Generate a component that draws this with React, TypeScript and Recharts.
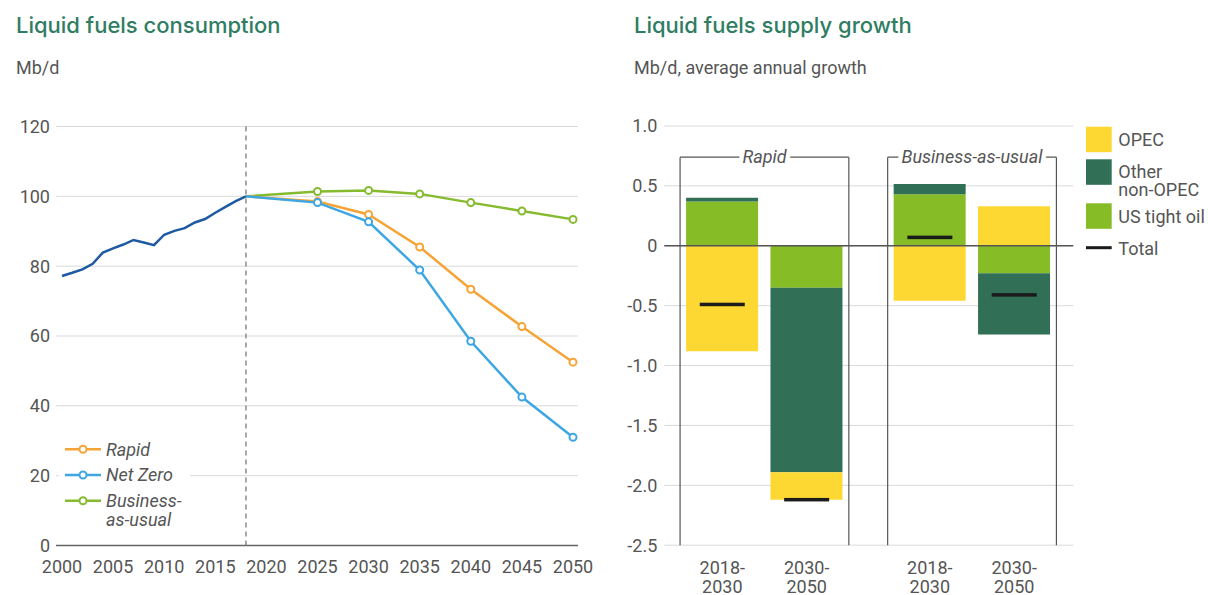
import React from "react";
import {
  LineChart,
  Line,
  ComposedChart,
  Bar,
  Scatter,
  XAxis,
  YAxis,
  CartesianGrid,
  ReferenceLine,
} from "recharts";

// ---- Liquid fuels consumption (Mb/d) ----
const historyYears = [2000, 2001, 2002, 2003, 2004, 2005, 2006, 2007, 2008, 2009, 2010, 2011, 2012, 2013, 2014, 2015, 2016, 2017, 2018];
const historyValues = [77.2, 78.1, 79.1, 80.7, 83.9, 85.1, 86.2, 87.5, 86.8, 86.0, 89.0, 90.1, 90.9, 92.5, 93.5, 95.3, 97.0, 98.6, 100.0];
const scenarioYears = [2018, 2025, 2030, 2035, 2040, 2045, 2050];
const rapidValues = [100, 98.5, 94.8, 85.5, 73.4, 62.7, 52.5];
const netZeroValues = [100, 98.2, 92.7, 78.9, 58.5, 42.5, 31.0];
const bauValues = [100, 101.4, 101.7, 100.7, 98.2, 95.8, 93.4];
const yearTicks = [2000, 2005, 2010, 2015, 2020, 2025, 2030, 2035, 2040, 2045, 2050];
const consumptionTicks = [0, 20, 40, 60, 80, 100, 120];

// ---- Liquid fuels supply growth (Mb/d, average annual growth) ----
const scenarios = ["Rapid", "Business-as-usual"];
const periods = ["2018-2030", "2030-2050"];
const usTightOil = [0.37, -0.35, 0.43, -0.23];
const otherNonOpec = [0.03, -1.54, 0.085, -0.51];
const opec = [-0.88, -0.23, -0.46, 0.33];
const totals = [-0.49, -2.12, 0.07, -0.41];
const growthTicks = [-2.5, -2, -1.5, -1, -0.5, 0, 0.5, 1];

const FONT = "Roboto, 'Open Sans', sans-serif";
const TITLE_FONT = "Inter, Roboto, sans-serif";
const TEXT = "#555";
const GRID = "#d9d9d9";
const TITLE = "#2f7d62";

const LINE_SERIES = [
  { key: "bau", label: ["Business-", "as-usual"], color: "#86bb2f", values: bauValues },
  { key: "rapid", label: ["Rapid"], color: "#f6a436", values: rapidValues },
  { key: "netZero", label: ["Net Zero"], color: "#3ea7e3", values: netZeroValues },
];
const LEGEND_ORDER = ["rapid", "netZero", "bau"];

const BAR_SERIES = [
  { key: "usTightOil", name: "US tight oil", color: "#86bc25", values: usTightOil },
  { key: "otherNonOpec", name: "Other non-OPEC", color: "#316f57", values: otherNonOpec },
  { key: "opec", name: "OPEC", color: "#fdd833", values: opec },
];

const allYears = Array.from(new Set([...historyYears, ...scenarioYears])).sort((a, b) => a - b);
const consumptionData = allYears.map((year) => {
  const h = historyYears.indexOf(year);
  const s = scenarioYears.indexOf(year);
  const row: Record<string, number | null> = { year, history: h >= 0 ? historyValues[h] : null };
  LINE_SERIES.forEach((ser) => {
    row[ser.key] = s >= 0 ? ser.values[s] : null;
  });
  return row;
});

const GROUP_STEP = 2.46;
const growthData = scenarios.flatMap((scenario, gi) =>
  periods.map((period, pi) => {
    const i = gi * periods.length + pi;
    const row: Record<string, any> = { x: gi * GROUP_STEP + pi, scenario, period, total: totals[i] };
    BAR_SERIES.forEach((ser) => {
      row[ser.key] = ser.values[i];
    });
    return row;
  })
);
const barTicks = growthData.map((r) => r.x);

const scenarioDot = (color: string) => (props: any) => {
  const { cx, cy, payload, index } = props;
  if (cx == null || cy == null || payload.year <= 2018) return <g key={`d-${index}`} />;
  return <circle key={`d-${index}`} cx={cx} cy={cy} r={3.5} fill="#fff" stroke={color} strokeWidth={2} />;
};

const PeriodTick = (props: any) => {
  const { x, y, payload } = props;
  const row = growthData.find((r) => Math.abs(r.x - payload.value) < 1e-6);
  if (!row) return <g />;
  const [a, b] = row.period.split("-");
  return (
    <text x={x} y={y} textAnchor="middle" fill={TEXT} fontSize={18} fontFamily={FONT}>
      <tspan x={x} dy={28.5}>{a}-</tspan>
      <tspan x={x} dy={18.8}>{b}</tspan>
    </text>
  );
};

const TotalMark = (props: any) => {
  const { cx, cy } = props;
  if (cx == null || cy == null) return <g />;
  return <rect x={cx - 22.5} y={cy - 1.75} width={45} height={3.5} fill="#1b1b1b" />;
};

const bracketLabel = (text: string) => (props: any) => {
  const vb = props.viewBox || {};
  const cx = (vb.x || 0) + (vb.width || 0) / 2;
  const cy = vb.y || 0;
  return (
    <text
      x={cx}
      y={cy}
      dy="0.35em"
      textAnchor="middle"
      fontSize={18}
      fontStyle="italic"
      fontFamily={FONT}
      fill={TEXT}
      stroke="#fff"
      strokeWidth={9}
      paintOrder="stroke"
    >
      {text}
    </text>
  );
};

const tickStyle = { fill: TEXT, fontSize: 18, fontFamily: FONT };
const BRACKET_TOP = 0.74;

export default function App() {
  return (
    <div style={{ position: "absolute", left: 0, top: 0, width: 1208, height: 595, background: "#fff" }}>
      <div style={{ position: "absolute", left: 0, top: 0 }}>
        <LineChart width={600} height={595} data={consumptionData} margin={{ top: 126.5, right: 22, bottom: 19.5, left: 6 }}>
          <CartesianGrid vertical={false} stroke={GRID} />
          <XAxis
            dataKey="year"
            type="number"
            domain={[2000, 2050]}
            ticks={yearTicks}
            interval={0}
            padding={{ left: 6, right: 5 }}
            height={30}
            tickSize={0}
            tickMargin={15}
            tick={tickStyle}
            axisLine={{ stroke: "#666", strokeWidth: 1.5 }}
          />
          <YAxis
            domain={[0, 120]}
            ticks={consumptionTicks}
            width={50}
            tickSize={0}
            tickMargin={6}
            tick={tickStyle}
            axisLine={false}
          />
          <ReferenceLine x={2018} stroke="#8c8c8c" strokeDasharray="5 4" strokeWidth={1.5} />
          <Line dataKey="history" stroke="#1d5aa3" strokeWidth={2.5} dot={false} isAnimationActive={false} />
          {LINE_SERIES.map((s) => (
            <Line
              key={s.key}
              dataKey={s.key}
              stroke={s.color}
              strokeWidth={2.5}
              dot={scenarioDot(s.color)}
              activeDot={false}
              isAnimationActive={false}
            />
          ))}
        </LineChart>
      </div>

      <div style={{ position: "absolute", left: 600, top: 0 }}>
        <ComposedChart
          width={608}
          height={595}
          data={growthData}
          stackOffset="sign"
          margin={{ top: 126, right: 134.7, bottom: 19.8, left: 8.3 }}
        >
          <CartesianGrid vertical={false} stroke={GRID} />
          <XAxis
            dataKey="x"
            type="number"
            domain={[-0.687, 4.16]}
            allowDataOverflow
            ticks={barTicks}
            interval={0}
            height={30}
            tickSize={0}
            tickMargin={0}
            axisLine={false}
            tick={<PeriodTick />}
          />
          <YAxis
            domain={[-2.5, 1]}
            ticks={growthTicks}
            width={56}
            tickSize={0}
            tickMargin={7}
            tick={tickStyle}
            axisLine={false}
            tickFormatter={(v: number) => (v === 0 ? "0" : v.toFixed(1))}
          />
          {BAR_SERIES.map((s) => (
            <Bar key={s.key} dataKey={s.key} stackId="supply" fill={s.color} barSize={72} isAnimationActive={false} />
          ))}
          <ReferenceLine y={0} stroke="#555" strokeWidth={1.3} />
          {scenarios.map((name, gi) => {
            const left = gi * GROUP_STEP - 0.5;
            const right = gi * GROUP_STEP + periods.length - 0.5;
            return (
              <React.Fragment key={name}>
                <ReferenceLine
                  segment={[{ x: left, y: BRACKET_TOP }, { x: left, y: -2.5 }]}
                  stroke="#555"
                  strokeWidth={1.2}
                />
                <ReferenceLine
                  segment={[{ x: right, y: BRACKET_TOP }, { x: right, y: -2.5 }]}
                  stroke="#555"
                  strokeWidth={1.2}
                />
                <ReferenceLine
                  segment={[{ x: left, y: BRACKET_TOP }, { x: right, y: BRACKET_TOP }]}
                  stroke="#555"
                  strokeWidth={1.2}
                  label={bracketLabel(name)}
                />
              </React.Fragment>
            );
          })}
          <Scatter dataKey="total" shape={TotalMark} isAnimationActive={false} />
        </ComposedChart>
      </div>

      <svg width={1208} height={595} style={{ position: "absolute", left: 0, top: 0, pointerEvents: "none" }}>
        <text x={16} y={32.5} fontSize={22} fontWeight={500} fill={TITLE} fontFamily={TITLE_FONT}>
          Liquid fuels consumption
        </text>
        <text x={16} y={74} fontSize={18} fill={TEXT} fontFamily={FONT}>
          Mb/d
        </text>
        <text x={634} y={32.5} fontSize={22} fontWeight={500} fill={TITLE} fontFamily={TITLE_FONT}>
          Liquid fuels supply growth
        </text>
        <text x={634} y={74} fontSize={18} fill={TEXT} fontFamily={FONT}>
          Mb/d, average annual growth
        </text>

        {/* left legend */}
        <rect x={59} y={437} width={131} height={92} fill="#fff" />
        {LEGEND_ORDER.map((k, i) => {
          const s = LINE_SERIES.find((d) => d.key === k)!;
          const y = 449.3 + i * 25.7;
          return (
            <g key={k}>
              <line x1={65} x2={101} y1={y} y2={y} stroke={s.color} strokeWidth={2.5} />
              <circle cx={83} cy={y} r={3.5} fill="#fff" stroke={s.color} strokeWidth={2} />
              <text x={106} y={y + 6.4} fontSize={18} fontStyle="italic" fill={TEXT} fontFamily={FONT}>
                {s.label.map((ln, j) => (
                  <tspan key={j} x={106} dy={j === 0 ? 0 : 18.6}>
                    {ln}
                  </tspan>
                ))}
              </text>
            </g>
          );
        })}

        {/* right legend */}
        {[
          { key: "opec", lines: ["OPEC"], top: 126.7 },
          { key: "otherNonOpec", lines: ["Other", "non-OPEC"], top: 159.3 },
          { key: "usTightOil", lines: ["US tight oil"], top: 203.3 },
        ].map((item) => {
          const s = BAR_SERIES.find((d) => d.key === item.key)!;
          const firstY = item.lines.length > 1 ? item.top + 12.4 : item.top + 13.2;
          return (
            <g key={item.key}>
              <rect x={1086} y={item.top} width={25.7} height={25.5} fill={s.color} />
              <text x={1118.3} y={firstY + 6.4} fontSize={18} fill={TEXT} fontFamily={FONT}>
                {item.lines.map((ln, j) => (
                  <tspan key={j} x={1118.3} dy={j === 0 ? 0 : 17.6}>
                    {ln}
                  </tspan>
                ))}
              </text>
            </g>
          );
        })}
        <rect x={1086} y={246.2} width={25.7} height={3} fill="#1b1b1b" />
        <text x={1118.3} y={255.4} fontSize={18} fill={TEXT} fontFamily={FONT}>
          Total
        </text>
      </svg>
    </div>
  );
}
